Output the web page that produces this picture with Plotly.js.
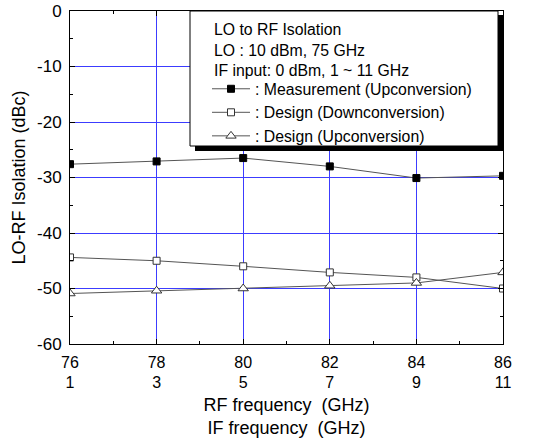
<!DOCTYPE html>
<html>
<head>
<meta charset="utf-8">
<script src="https://cdn.plot.ly/plotly-3.0.1.min.js"></script>
<style>html,body{margin:0;padding:0;background:#fff;}#chart{width:546px;height:438px;}</style>
</head>
<body>
<div id="chart"></div>
<script>
// Data
const rfFreq = [76, 78, 80, 82, 84, 86];           // RF frequency (GHz)
const ifFreq = [1, 3, 5, 7, 9, 11];                // IF frequency (GHz)
const measUp = [-27.6, -27.1, -26.5, -28.0, -30.1, -29.7];
const designDown = [-44.4, -45.0, -46.0, -47.1, -48.0, -50.0];
const designUp = [-50.9, -50.4, -50.0, -49.5, -49.0, -47.1];
const yTicks = [0, -10, -20, -30, -40, -50, -60];
const legendHeader = ['LO to RF Isolation', 'LO : 10 dBm, 75 GHz', 'IF input: 0 dBm, 1 ~ 11 GHz'];
const seriesNames = [': Measurement (Upconversion)', ': Design (Downconversion)', ': Design (Upconversion)'];

const FONT = 'Liberation Sans, Arial, sans-serif';
const lineCol = '#555555';
const gridCol = '#3c3cff';

// plot area in pixels
const L = 70, T = 11, W = 433, H = 333;
const px = x => (x - L) / W;
const py = y => 1 - (y - T) / H;

const traces = [
  {x: rfFreq, y: measUp, name: seriesNames[0], mode: 'lines+markers',
   line: {color: lineCol, width: 1},
   marker: {symbol: 'square', size: 7, color: '#000', line: {color: '#000', width: 1}}},
  {x: rfFreq, y: designDown, name: seriesNames[1], mode: 'lines+markers',
   line: {color: lineCol, width: 1},
   marker: {symbol: 'square', size: 7, color: '#fff', line: {color: '#333', width: 1}}},
  {x: rfFreq, y: designUp, name: seriesNames[2], mode: 'lines+markers',
   line: {color: lineCol, width: 1},
   marker: {symbol: 'triangle-up', size: 9, color: '#fff', line: {color: '#333', width: 1}}},
  // same measurement against the IF frequency scale (invisible, just carries the IF axis)
  {x: ifFreq, y: measUp, xaxis: 'x2', yaxis: 'y', mode: 'lines', showlegend: false,
   hoverinfo: 'skip', line: {width: 0, color: 'rgba(0,0,0,0)'}, opacity: 0}
];

const layout = {
  width: 546, height: 438,
  margin: {l: L, r: 546 - L - W, t: T, b: 438 - T - H},
  paper_bgcolor: '#fff', plot_bgcolor: '#fff',
  font: {family: FONT, color: '#000', size: 17},
  showlegend: true,
  legend: {
    x: px(207), xanchor: 'left', y: py(72), yanchor: 'top',
    bgcolor: 'rgba(0,0,0,0)', borderwidth: 0,
    font: {family: FONT, size: 15.8, color: '#000'},
    itemwidth: 38, tracegroupgap: 0
  },
  annotations: [{
    xref: 'paper', yref: 'paper', x: px(212), y: py(19), xanchor: 'left', yanchor: 'top',
    align: 'left', showarrow: false, text: legendHeader.join('<br>'),
    font: {family: FONT, size: 15.8, color: '#000'}
  }],
  shapes: [
    {type: 'rect', xref: 'paper', yref: 'paper', layer: 'above',
     x0: px(195), x1: px(503), y0: py(151), y1: py(15),
     fillcolor: '#000', line: {width: 0}},
    {type: 'rect', xref: 'paper', yref: 'paper', layer: 'above',
     x0: px(190), x1: px(498), y0: py(146), y1: py(11),
     fillcolor: '#fff', line: {color: '#000', width: 1}}
  ],
  xaxis: {
    range: [76, 86], tickvals: rfFreq, ticktext: rfFreq.map(String),
    ticks: 'inside', ticklen: 5, tickwidth: 1, tickcolor: '#000',
    showline: true, linecolor: '#000', linewidth: 1, mirror: 'ticks',
    showgrid: true, gridcolor: gridCol, gridwidth: 1, zeroline: false,
    minor: {dtick: 1, ticks: 'inside', ticklen: 3, tickcolor: '#000', showgrid: false},
    tickfont: {family: FONT, size: 16}, ticklabelstandoff: 4,
    title: {text: 'RF frequency\u00a0 (GHz)<br>IF frequency\u00a0 (GHz)', font: {family: FONT, size: 18}, standoff: 28}
  },
  xaxis2: {
    overlaying: 'x', anchor: 'y', side: 'bottom',
    range: [ifFreq[0], ifFreq[ifFreq.length - 1]], tickvals: ifFreq, ticktext: ifFreq.map(String),
    ticks: '', showline: false, showgrid: false, zeroline: false,
    tickfont: {family: FONT, size: 16}, ticklabelstandoff: 27
  },
  yaxis: {
    range: [-60, 0], tickvals: yTicks, ticktext: yTicks.map(String),
    ticks: 'inside', ticklen: 5, tickwidth: 1, tickcolor: '#000',
    showline: true, linecolor: '#000', linewidth: 1, mirror: 'ticks',
    showgrid: true, gridcolor: gridCol, gridwidth: 1, zeroline: false,
    minor: {dtick: 5, ticks: 'inside', ticklen: 3, tickcolor: '#000', showgrid: false},
    tickfont: {family: FONT, size: 17}, ticklabelstandoff: 4,
    title: {text: 'LO-RF Isolation (dBc)', font: {family: FONT, size: 18}, standoff: 6}
  }
};

Plotly.newPlot('chart', traces, layout, {displayModeBar: false, staticPlot: true});
</script>
</body>
</html>
